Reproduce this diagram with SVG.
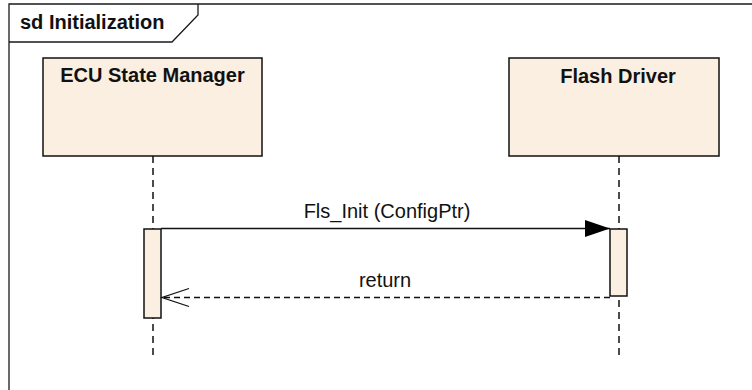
<svg xmlns="http://www.w3.org/2000/svg" width="752" height="390" viewBox="0 0 752 390">
<style>
.frame{fill:none;stroke:#1a1a1a;stroke-width:1.3}
.box{fill:#FAEFE1;stroke:#111;stroke-width:1.5}
.life{stroke:#111;stroke-width:1.5;stroke-dasharray:7 5;fill:none}
.act{fill:#FAEFE1;stroke:#111;stroke-width:1.5}
.msg{stroke:#111;stroke-width:1.5;fill:none}
.ret{stroke:#111;stroke-width:1.3;stroke-dasharray:6 4;fill:none}
.lbl{font-family:"Liberation Sans",Arial,sans-serif;font-size:20px;fill:#111}
.bold{font-weight:bold}
</style>
<defs>
<marker id="filled" markerWidth="26" markerHeight="18" refX="25" refY="8.5" orient="auto" markerUnits="userSpaceOnUse">
<path d="M0,0 L25,8.5 L0,17 Z" fill="#000"/>
</marker>
<marker id="open" markerWidth="30" markerHeight="22" refX="28" refY="10" orient="auto" markerUnits="userSpaceOnUse">
<path d="M1,1 L28,10 L1,19" fill="none" stroke="#111" stroke-width="1.3"/>
</marker>
</defs>
<rect width="752" height="390" fill="#fff"/>
<g id="frame">
<path class="frame" d="M9,400 L9,4 L760,4"/>
<path class="frame" d="M9,42 L172,42 L198,15 L198,4"/>
<text class="lbl bold" x="20" y="29">sd Initialization</text>
</g>
<g id="ecu">
<line class="life" x1="153" y1="156" x2="153" y2="357"/>
<rect class="box" x="43" y="58" width="219" height="98"/>
<text class="lbl bold" x="152.5" y="82" text-anchor="middle">ECU State Manager</text>
<rect class="act" x="144" y="229" width="17" height="89"/>
</g>
<g id="flash">
<line class="life" x1="619" y1="156" x2="619" y2="357"/>
<rect class="box" x="509" y="58" width="210" height="98"/>
<text class="lbl bold" x="618" y="83" text-anchor="middle">Flash Driver</text>
<rect class="act" x="610" y="229" width="17" height="67"/>
</g>
<g id="connectors">
<line class="msg" x1="161" y1="228.5" x2="610" y2="228.5" marker-end="url(#filled)"/>
<text class="lbl" x="387" y="218" text-anchor="middle">Fls_Init (ConfigPtr)</text>
<line class="ret" x1="610" y1="297.5" x2="162" y2="297.5" marker-end="url(#open)"/>
<text class="lbl" x="385" y="287" text-anchor="middle">return</text>
</g>
</svg>
